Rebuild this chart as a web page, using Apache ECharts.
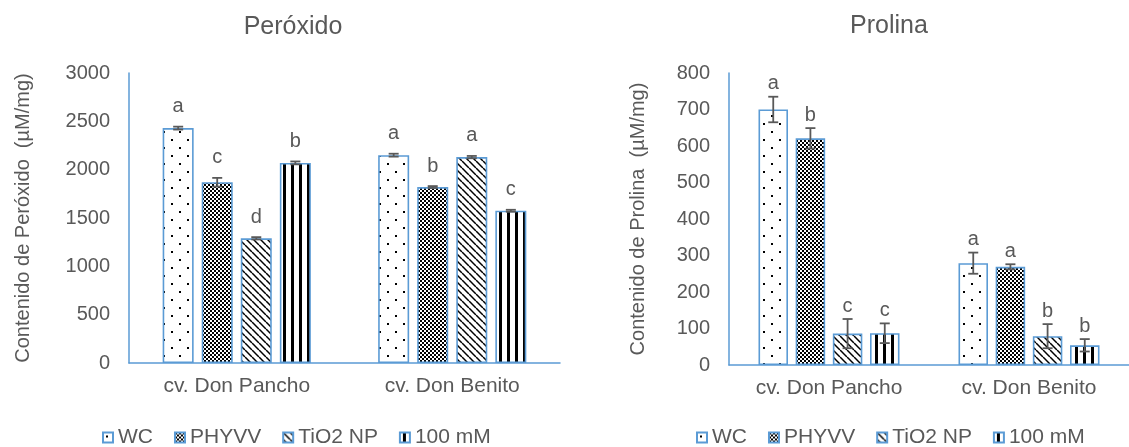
<!DOCTYPE html>
<html><head><meta charset="utf-8">
<script src="https://cdn.jsdelivr.net/npm/echarts@6/dist/echarts.min.js"></script>
<style>html,body{margin:0;padding:0;background:#fff}#c{width:1129px;height:447px}</style>
</head><body><div id="c"></div>
<script>
// ---------- DATA ----------
const categories = ['cv. Don Pancho', 'cv. Don Benito'];
const seriesNames = ['WC', 'PHYVV', 'TiO2 NP', '100 mM'];
const yTicksPer = [0, 500, 1000, 1500, 2000, 2500, 3000];
const yTicksPro = [0, 100, 200, 300, 400, 500, 600, 700, 800];

// Peróxido
const perWC = [2430, 2150];
const perPHYVV = [1870, 1820];
const perTiO2 = [1290, 2130];
const per100 = [2070, 1575];
const perErrWC = [15, 15];
const perErrPHYVV = [45, 10];
const perErrTiO2 = [12, 12];
const perErr100 = [15, 10];
const perLetWC = ['a', 'a'];
const perLetPHYVV = ['c', 'b'];
const perLetTiO2 = ['d', 'a'];
const perLet100 = ['b', 'c'];

// Prolina
const proWC = [700, 279];
const proPHYVV = [621, 269];
const proTiO2 = [86, 79];
const pro100 = [87, 54];
const proErrWC = [35, 29];
const proErrPHYVV = [28, 7];
const proErrTiO2 = [40, 33];
const proErr100 = [27, 17];
const proLetWC = ['a', 'a'];
const proLetPHYVV = ['b', 'a'];
const proLetTiO2 = ['c', 'b'];
const proLet100 = ['c', 'b'];

// ---------- STYLE ----------
const FONT = '"Liberation Sans", Arial, Helvetica, sans-serif';
const TXT = '#595959';
const BLUE = '#5B9BD5';

function makePattern(kind) {
  const c = document.createElement('canvas');
  const ctx = c.getContext('2d');
  if (kind === 'dots') {
    c.width = 16; c.height = 16;
    ctx.fillStyle = '#fff'; ctx.fillRect(0, 0, 16, 16);
    ctx.fillStyle = '#000';
    ctx.fillRect(3, 3, 2, 2); ctx.fillRect(11, 11, 2, 2);
  } else if (kind === 'checker') {
    c.width = 4; c.height = 4;
    ctx.fillStyle = '#fff'; ctx.fillRect(0, 0, 4, 4);
    ctx.fillStyle = '#000';
    ctx.fillRect(0, 0, 2, 2); ctx.fillRect(2, 2, 2, 2);
  } else if (kind === 'diag') {
    c.width = 7; c.height = 7;
    ctx.fillStyle = '#fff'; ctx.fillRect(0, 0, 7, 7);
    ctx.strokeStyle = '#000'; ctx.lineWidth = 1.5;
    [-7, 0, 7].forEach(k => { ctx.beginPath(); ctx.moveTo(k, 0); ctx.lineTo(k + 7, 7); ctx.stroke(); });
  } else {
    c.width = 8; c.height = 8;
    ctx.fillStyle = '#fff'; ctx.fillRect(0, 0, 8, 8);
    ctx.fillStyle = '#000'; ctx.fillRect(3, 0, 3, 8);
  }
  return { image: c, repeat: 'repeat' };
}
const patterns = [makePattern('dots'), makePattern('checker'), makePattern('diag'), makePattern('vert')];

const charts = [
  { vals: [perWC, perPHYVV, perTiO2, per100], errs: [perErrWC, perErrPHYVV, perErrTiO2, perErr100],
    lets: [perLetWC, perLetPHYVV, perLetTiO2, perLet100], bw: 31, labOff: 10 },
  { vals: [proWC, proPHYVV, proTiO2, pro100], errs: [proErrWC, proErrPHYVV, proErrTiO2, proErr100],
    lets: [proLetWC, proLetPHYVV, proLetTiO2, proLet100], bw: 29.5, labOff: 3 }
];

const series = [];
charts.forEach((ch, g) => {
  const gap = ch.bw * 0.26;
  const total = 4 * ch.bw + 3 * gap;
  ch.vals.forEach((vals, s) => {
    series.push({
      name: seriesNames[s], type: 'bar', xAxisIndex: g, yAxisIndex: g,
      data: vals, barWidth: ch.bw, barGap: '26%',
      itemStyle: { color: patterns[s], borderColor: BLUE, borderWidth: 1.6 },
      emphasis: { disabled: true }, silent: true
    });
    const off = -total / 2 + s * (ch.bw + gap) + ch.bw / 2;
    const letters = ch.lets[s];
    series.push({
      type: 'custom', xAxisIndex: g, yAxisIndex: g, z: 10, silent: true,
      data: vals.map((v, i) => [i, v, ch.errs[s][i]]),
      renderItem: function (params, api) {
        const i = api.value(0), v = api.value(1), e = api.value(2);
        const x = api.coord([i, v])[0] + off;
        const yHi = api.coord([i, v + e])[1];
        const yLo = api.coord([i, v - e])[1];
        const st = { stroke: TXT, lineWidth: 1.8 };
        return {
          type: 'group',
          children: [
            { type: 'line', shape: { x1: x, y1: yHi, x2: x, y2: yLo }, style: st },
            { type: 'line', shape: { x1: x - 5, y1: yHi, x2: x + 5, y2: yHi }, style: st },
            { type: 'line', shape: { x1: x - 5, y1: yLo, x2: x + 5, y2: yLo }, style: st },
            { type: 'text', style: { text: letters[i], x: x, y: yHi - ch.labOff,
                align: 'center', verticalAlign: 'bottom', fill: TXT, font: '20px ' + FONT } }
          ]
        };
      }
    });
  });
});

const axisCommon = {
  axisLine: { show: true, lineStyle: { color: BLUE, width: 1.5 } },
  axisTick: { show: false },
  splitLine: { show: false }
};

const option = {
  animation: false,
  textStyle: { fontFamily: FONT },
  graphic: [
    { type: 'text', style: { text: 'Peróxido', x: 293, y: 27, align: 'center', verticalAlign: 'middle', fill: TXT, font: '25px ' + FONT } },
    { type: 'text', style: { text: 'Prolina', x: 889, y: 26, align: 'center', verticalAlign: 'middle', fill: TXT, font: '25px ' + FONT } }
  ],
  grid: [
    { left: 129, top: 73, width: 431, height: 290 },
    { left: 729, top: 73, width: 410, height: 292 }
  ],
  xAxis: [0, 1].map(g => Object.assign({}, axisCommon, {
    type: 'category', gridIndex: g, data: categories,
    axisLabel: { color: TXT, fontSize: 21, margin: 13, fontFamily: FONT }
  })),
  yAxis: [
    Object.assign({}, axisCommon, {
      type: 'value', gridIndex: 0, min: yTicksPer[0], max: yTicksPer[yTicksPer.length - 1], interval: yTicksPer[1] - yTicksPer[0],
      name: 'Contenido de Peróxido  (µM/mg)', nameLocation: 'middle', nameGap: 96,
      nameTextStyle: { color: TXT, fontSize: 20, fontFamily: FONT },
      axisLabel: { color: TXT, fontSize: 20, margin: 19, fontFamily: FONT, formatter: v => String(v) }
    }),
    Object.assign({}, axisCommon, {
      type: 'value', gridIndex: 1, min: yTicksPro[0], max: yTicksPro[yTicksPro.length - 1], interval: yTicksPro[1] - yTicksPro[0],
      name: 'Contenido de Prolina  (µM/mg)', nameLocation: 'middle', nameGap: 81,
      nameTextStyle: { color: TXT, fontSize: 20, fontFamily: FONT },
      axisLabel: { color: TXT, fontSize: 20, margin: 19, fontFamily: FONT, formatter: v => String(v) }
    })
  ],
  legend: [
    { data: seriesNames, left: 102, top: 427, icon: 'rect', itemWidth: 10, itemHeight: 10, itemGap: 21, selectedMode: false,
      textStyle: { color: TXT, fontSize: 21, fontFamily: FONT }, padding: 0 },
    { data: seriesNames, left: 696, top: 427, icon: 'rect', itemWidth: 10, itemHeight: 10, itemGap: 21, selectedMode: false,
      textStyle: { color: TXT, fontSize: 21, fontFamily: FONT }, padding: 0 }
  ],
  series: series
};

const chart = echarts.init(document.getElementById('c'), null, { renderer: 'canvas' });
chart.setOption(option);
</script>
</body></html>
